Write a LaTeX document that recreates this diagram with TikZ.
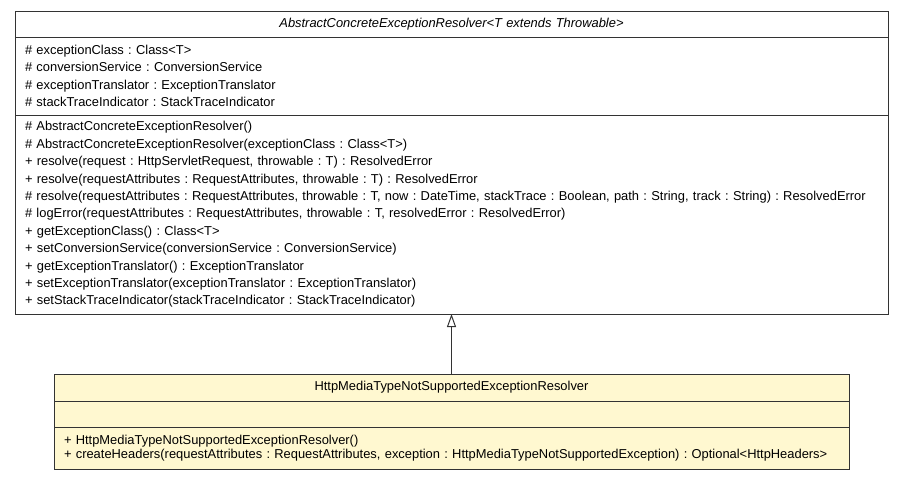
\documentclass[tikz,border=0pt]{standalone}
\usepackage{fontspec}
\setmainfont{Liberation Sans}
\usepackage{tikz}
\usetikzlibrary{arrows.meta,positioning}
\definecolor{umlyellow}{RGB}{255,248,208}
\definecolor{umlline}{RGB}{51,51,51}

\begin{document}
\begin{tikzpicture}[x=1pt, y=-1pt,
  compart/.style={draw=umlline, line width=1pt, inner ysep=0pt, outer sep=0pt,
    font=\fontsize{12.9}{17.4}\selectfont\frenchspacing},
  absbox/.style={compart, fill=white, inner xsep=10pt, text width=853pt, minimum width=873pt},
  httpbox/.style={compart, fill=umlyellow, inner xsep=10pt, text width=775pt, minimum width=795pt},
  extends/.style={umlline, line width=1pt, -{Triangle[open, length=13pt, width=9pt]}}]
\useasboundingbox (0,0) rectangle (904,480);
% superclass
\node[absbox, anchor=north west, minimum height=26pt, align=center, font={\fontsize{12.9}{17.4}\selectfont\itshape}] (absname) at (15,11) {AbstractConcreteExceptionResolver<T extends Throwable>};
\node[absbox, minimum height=78pt, align=left, below=0pt of absname] (absattr) {\# exceptionClass : Class<T>\\
\# conversionService : ConversionService\\
\# exceptionTranslator : ExceptionTranslator\\
\# stackTraceIndicator : StackTraceIndicator};
\node[absbox, minimum height=199pt, align=left, below=0pt of absattr] (absops) {\# AbstractConcreteExceptionResolver()\\
\# AbstractConcreteExceptionResolver(exceptionClass : Class<T>)\\
+ resolve(request : HttpServletRequest, throwable : T) : ResolvedError\\
+ resolve(requestAttributes : RequestAttributes, throwable : T) : ResolvedError\\
\mbox{\# resolve(requestAttributes : RequestAttributes, throwable : T, now : DateTime, stackTrace : Boolean, path : String, track : String) : ResolvedError}\\
\# logError(requestAttributes : RequestAttributes, throwable : T, resolvedError : ResolvedError)\\
+ getExceptionClass() : Class<T>\\
+ setConversionService(conversionService : ConversionService)\\
+ getExceptionTranslator() : ExceptionTranslator\\
+ setExceptionTranslator(exceptionTranslator : ExceptionTranslator)\\
+ setStackTraceIndicator(stackTraceIndicator : StackTraceIndicator)};
% subclass
\node[httpbox, anchor=north west, minimum height=27pt, align=center] (httpname) at (54,374) {HttpMediaTypeNotSupportedExceptionResolver};
\node[httpbox, minimum height=26pt, below=0pt of httpname] (httpattr) {};
\node[httpbox, minimum height=42pt, align=left, below=0pt of httpattr, font=\fontsize{12.9}{14.4}\selectfont\frenchspacing] (httpops) {+ HttpMediaTypeNotSupportedExceptionResolver()\\
\mbox{+ createHeaders(requestAttributes : RequestAttributes, exception : HttpMediaTypeNotSupportedException) : Optional<HttpHeaders>}};
\draw[extends] (httpname.north) -- (absops.south);
\end{tikzpicture}
\end{document}
